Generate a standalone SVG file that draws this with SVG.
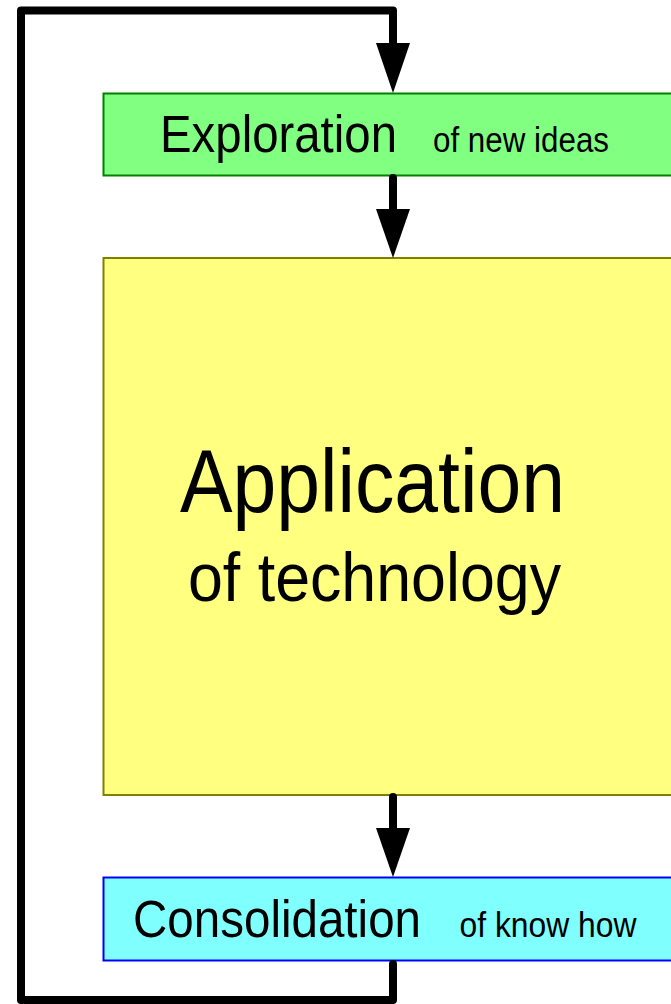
<svg xmlns="http://www.w3.org/2000/svg" width="671" height="1004" viewBox="0 0 671 1004">
<style>
.box{stroke-width:2}
.line{fill:none;stroke:#000;stroke-width:8;stroke-linecap:round;stroke-linejoin:round}
.head{fill:#000;stroke:none}
text{font-family:"Liberation Sans",Arial,sans-serif;fill:#000}
</style>
<rect x="0" y="0" width="671" height="1004" fill="#fff"/>
<g id="exploration">
<rect class="box" x="103.5" y="93.5" width="600" height="82" fill="#80ff80" stroke="#008000"/>
<text x="160" y="152" font-size="52.6" textLength="237" lengthAdjust="spacingAndGlyphs">Exploration</text>
<text x="433" y="152" font-size="34.8" textLength="176" lengthAdjust="spacingAndGlyphs">of new ideas</text>
</g>
<g id="application">
<rect class="box" x="103.5" y="258" width="600" height="537" fill="#ffff80" stroke="#808000"/>
<text x="180" y="512" font-size="88.5" textLength="385" lengthAdjust="spacingAndGlyphs">Application</text>
<text x="188" y="601" font-size="69" textLength="373" lengthAdjust="spacingAndGlyphs">of technology</text>
</g>
<g id="consolidation">
<rect class="box" x="103.5" y="877.5" width="600" height="83" fill="#80ffff" stroke="#0000ff"/>
<text x="133" y="936.5" font-size="52.6" textLength="288" lengthAdjust="spacingAndGlyphs">Consolidation</text>
<text x="459.5" y="936.5" font-size="34.8" textLength="177" lengthAdjust="spacingAndGlyphs">of know how</text>
</g>
<g id="connectors">
<path class="line" d="M393,964 L393,1000 L21,1000 L21,10.5 L393,10.5 L393,45"/>
<polygon class="head" points="376,43 410,43 393,93"/>
<path class="line" d="M393,178 L393,211"/>
<polygon class="head" points="376,209 410,209 393,258"/>
<path class="line" d="M393,797 L393,830"/>
<polygon class="head" points="376,828 410,828 393,877"/>
</g>
</svg>
